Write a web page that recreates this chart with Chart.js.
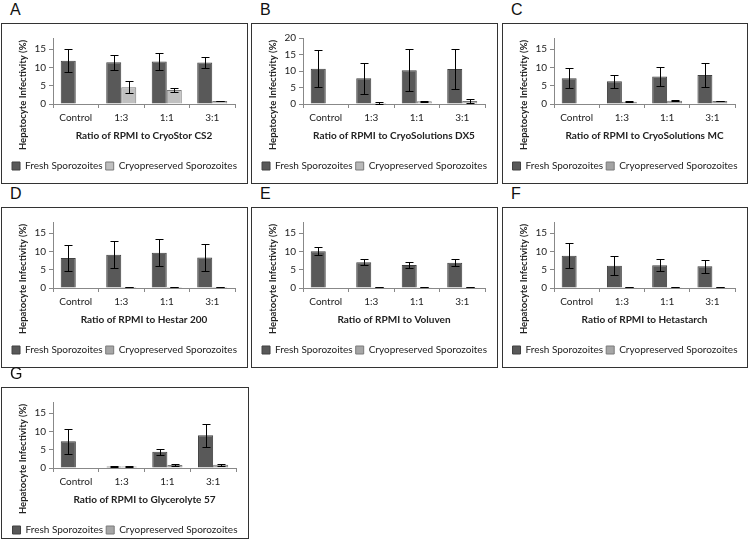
<!DOCTYPE html>
<html>
<head>
<meta charset="utf-8">
<script src="https://cdn.jsdelivr.net/npm/chart.js@4.4.1/dist/chart.umd.min.js"></script>
<style>
  body { margin: 0; background: #fff; width: 750px; height: 549px; position: relative; overflow: hidden; }
  .panel { position: absolute; border: 1px solid #333; box-sizing: border-box; }
  .panel canvas { position: absolute; left: 0; top: 0; }
  .letter { position: absolute; font-family: "Liberation Sans", Arial, sans-serif; font-size: 16px; color: #111; }
</style>
</head>
<body>
<script>
const categories = ["Control", "1:3", "1:1", "3:1"];
const seriesNames = ["Fresh Sporozoites", "Cryopreserved Sporozoites"];
const yTitle = "Hepatocyte Infectivity (%)";

// A - CryoStor CS2
const freshA = [11.8, 11.4, 11.6, 11.3];
const freshErrA = [3.2, 2.1, 2.2, 1.4];
const cryoA = [null, 4.6, 3.8, 0.8];
const cryoErrA = [0, 1.6, 0.5, 0.1];

// B - CryoSolutions DX5
const freshB = [10.7, 7.8, 10.2, 10.6];
const freshErrB = [5.6, 4.7, 6.4, 6.2];
const cryoB = [null, 0.3, 0.8, 0.9];
const cryoErrB = [0, 0.2, 0.2, 0.5];

// C - CryoSolutions MC
const freshC = [7.0, 6.2, 7.5, 7.9];
const freshErrC = [2.7, 1.7, 2.6, 3.2];
const cryoC = [null, 0.6, 0.9, 0.8];
const cryoErrC = [0, 0.1, 0.15, 0.05];

// D - Hestar 200
const freshD = [8.2, 9.1, 9.6, 8.3];
const freshErrD = [3.5, 3.6, 3.7, 3.7];
const cryoD = [null, 0.3, 0.3, 0.3];
const cryoErrD = [0, 0.05, 0.05, 0.05];

// E - Voluven
const freshE = [10.0, 7.0, 6.3, 6.9];
const freshErrE = [1.1, 0.8, 0.9, 0.9];
const cryoE = [null, 0.2, 0.2, 0.2];
const cryoErrE = [0, 0.05, 0.05, 0.05];

// F - Hetastarch
const freshF = [8.8, 6.1, 6.2, 5.9];
const freshErrF = [3.4, 2.5, 1.6, 1.8];
const cryoF = [null, 0.2, 0.2, 0.2];
const cryoErrF = [0, 0.05, 0.05, 0.05];

// G - Glycerolyte 57
const freshG = [7.3, 0.4, 4.4, 8.9];
const freshErrG = [3.4, 0.1, 0.9, 3.1];
const cryoG = [null, 0.4, 0.8, 0.9];
const cryoErrG = [0, 0.1, 0.35, 0.25];

const FONT = "Lato, 'Open Sans', sans-serif";

// draws +/- error bars on top of each bar
const errorBars = {
  id: "errorBars",
  afterDatasetsDraw(chart) {
    const ctx = chart.ctx;
    const yScale = chart.scales.y;
    ctx.save();
    ctx.strokeStyle = "#000";
    ctx.lineWidth = 1;
    chart.data.datasets.forEach((ds, i) => {
      const meta = chart.getDatasetMeta(i);
      meta.data.forEach((bar, j) => {
        const v = ds.data[j];
        if (v === null) return;
        const e = ds.errors[j];
        const x = Math.round(bar.x) + 0.5;
        const yTop = Math.round(yScale.getPixelForValue(v + e)) + 0.5;
        const yBot = Math.round(yScale.getPixelForValue(Math.max(v - e, 0))) + 0.5;
        ctx.beginPath();
        ctx.moveTo(x, yTop); ctx.lineTo(x, yBot);
        ctx.moveTo(x - 4, yTop); ctx.lineTo(x + 4, yTop);
        ctx.moveTo(x - 4, yBot); ctx.lineTo(x + 4, yBot);
        ctx.stroke();
      });
    });
    ctx.restore();
  }
};

// y axis title sits lower than the plot centre in the original, so draw it here
const sideTitle = {
  id: "sideTitle",
  afterDraw(chart) {
    const ctx = chart.ctx;
    ctx.save();
    ctx.translate(21, 71);
    ctx.rotate(-Math.PI / 2);
    ctx.font = "bold 9.5px " + FONT;
    ctx.fillStyle = "#222";
    ctx.textAlign = "center";
    ctx.textBaseline = "middle";
    ctx.fillText(yTitle, 0, 0);
    ctx.restore();
  }
};

function drawPanel(letter, left, top, width, height, title, fresh, freshErr, cryo, cryoErr, cryoColor, yMax) {
  const lab = document.createElement("div");
  lab.className = "letter";
  lab.style.left = (left + 9) + "px";
  lab.style.top = (top - 22) + "px";
  lab.textContent = letter;
  document.body.appendChild(lab);

  const box = document.createElement("div");
  box.className = "panel";
  box.style.left = left + "px";
  box.style.top = top + "px";
  box.style.width = width + "px";
  box.style.height = height + "px";
  const canvas = document.createElement("canvas");
  canvas.width = width - 2;
  canvas.height = 159;
  box.appendChild(canvas);
  document.body.appendChild(box);

  new Chart(canvas.getContext("2d"), {
    type: "bar",
    data: {
      labels: categories,
      datasets: [
        {
          label: seriesNames[0],
          data: fresh,
          errors: freshErr,
          backgroundColor: "#595959",
          borderColor: "#404040",
          borderWidth: 1
        },
        {
          label: seriesNames[1],
          data: cryo,
          errors: cryoErr,
          backgroundColor: cryoColor,
          borderColor: "#7a7a7a",
          borderWidth: 1
        }
      ]
    },
    options: {
      responsive: false,
      animation: false,
      layout: { padding: { left: 0, right: 0, top: 14, bottom: 2 } },
      categoryPercentage: 0.66,
      barPercentage: 1.0,
      scales: {
        x: {
          grid: { drawOnChartArea: false, tickLength: 4, color: "#888" },
          border: { color: "#888" },
          ticks: { color: "#222", font: { family: FONT, size: 10 }, padding: 4 },
          title: {
            display: true,
            text: title,
            color: "#222",
            font: { family: FONT, size: 10, weight: "bold" },
            padding: { top: 2, bottom: 16 }
          },
          afterFit: (s) => { s.height = 54; }
        },
        y: {
          min: 0,
          max: yMax,
          grid: { drawOnChartArea: false, tickLength: 4, color: "#888" },
          border: { color: "#888" },
          ticks: { stepSize: 5, includeBounds: false, color: "#222", font: { family: FONT, size: 10 }, padding: 3 },
          afterFit: (s) => { s.width = 51; }
        },
        // empty strip on the right so the legend can use the full width
        spacer: {
          type: "linear",
          position: "right",
          grid: { display: false },
          border: { display: false },
          ticks: { display: false },
          afterFit: (s) => { s.width = 12; }
        }
      },
      plugins: {
        legend: {
          position: "bottom",
          labels: {
            boxWidth: 8,
            boxHeight: 8,
            padding: 3,
            color: "#222",
            font: { family: FONT, size: 10 }
          }
        },
        tooltip: { enabled: false }
      }
    },
    plugins: [errorBars, sideTitle]
  });
}

drawPanel("A", 1, 23, 247, 161, "Ratio of RPMI to CryoStor CS2", freshA, freshErrA, cryoA, cryoErrA, "#c0c0c0", 18);
drawPanel("B", 251, 23, 247, 161, "Ratio of RPMI to CryoSolutions DX5", freshB, freshErrB, cryoB, cryoErrB, "#bababa", 20);
drawPanel("C", 502, 23, 246, 161, "Ratio of RPMI to CryoSolutions MC", freshC, freshErrC, cryoC, cryoErrC, "#a3a3a3", 18);
drawPanel("D", 1, 207, 247, 161, "Ratio of RPMI to Hestar 200", freshD, freshErrD, cryoD, cryoErrD, "#a6a6a6", 18);
drawPanel("E", 251, 207, 247, 161, "Ratio of RPMI to Voluven", freshE, freshErrE, cryoE, cryoErrE, "#a6a6a6", 18);
drawPanel("F", 502, 207, 246, 161, "Ratio of RPMI to Hetastarch", freshF, freshErrF, cryoF, cryoErrF, "#a6a6a6", 18);
drawPanel("G", 1, 387, 248, 152, "Ratio of RPMI to Glycerolyte 57", freshG, freshErrG, cryoG, cryoErrG, "#a6a6a6", 18);
</script>
</body>
</html>
